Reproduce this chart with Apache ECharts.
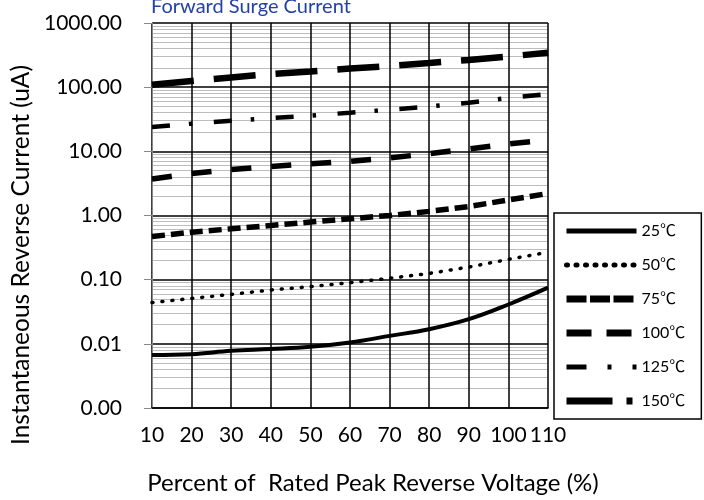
<!DOCTYPE html>
<html><head><meta charset="utf-8">
<script src="https://cdn.jsdelivr.net/npm/echarts@6/dist/echarts.min.js"></script>
<style>html,body{margin:0;padding:0;background:#fff}#c{width:704px;height:500px}</style>
</head><body><div id="c"></div>
<script>
const voltagePct = [10, 20, 30, 40, 50, 60, 70, 80, 90, 100, 110];
const seriesNames = ['25℃', '50℃', '75℃', '100℃', '125℃', '150℃'];
const current25 = [0.0067, 0.0069, 0.0078, 0.0083, 0.0090, 0.0105, 0.0133, 0.0169, 0.0242, 0.041, 0.075];
const current50 = [0.044, 0.051, 0.059, 0.069, 0.078, 0.090, 0.105, 0.125, 0.157, 0.207, 0.268];
const current75 = [0.47, 0.55, 0.62, 0.70, 0.79, 0.89, 1.0, 1.16, 1.38, 1.75, 2.2];
const current100 = [3.7, 4.5, 5.2, 5.8, 6.4, 7.0, 7.9, 9.2, 10.9, 13.0, 15.0];
const current125 = [24, 27, 30, 33, 36, 40, 44.5, 50, 57, 68, 78];
const current150 = [109, 125, 142, 160, 176, 195, 214, 238, 266, 300, 345];
const titleText = 'Forward Surge Current';
const xName = 'Percent of  Rated Peak Reverse Voltage (%)';
const yName = 'Instantaneous Reverse Current (uA)';

const allData = [current25, current50, current75, current100, current125, current150];
const styles = [
  {width: 4, type: 'solid', cap: 'butt', smooth: true, legendType: 'solid', legendWidth: 5},
  {width: 3.5, type: [1, 9], cap: 'round', smooth: false, legendType: [1, 8.5], legendWidth: 5},
  {width: 5.5, type: [13, 6], cap: 'butt', smooth: false, legendType: [20, 3.5], legendWidth: 7},
  {width: 5.5, type: [20, 20], cap: 'butt', smooth: false, legendType: [25, 15], legendWidth: 7},
  {width: 4.5, type: [18, 19, 3.5, 21.5], cap: 'butt', smooth: false, legendType: [20, 21, 4, 21, 4, 100], legendWidth: 5},
  {width: 6.5, type: [42, 20], cap: 'butt', smooth: false, legendType: [46, 14, 6, 100], legendWidth: 7}
];
const FONT = 'Lato, "Noto Sans CJK SC", sans-serif';

const series = seriesNames.map((name, i) => ({
  name: name,
  type: 'line',
  data: voltagePct.map((x, j) => [x, allData[i][j]]),
  showSymbol: false,
  symbol: 'none',
  smooth: styles[i].smooth ? 0.4 : false,
  z: 5,
  itemStyle: {color: '#000'},
  lineStyle: {color: '#000', width: styles[i].width, type: styles[i].type, cap: styles[i].cap}
}));

const legendData = seriesNames.map((name, i) => ({
  name: name,
  itemStyle: {opacity: 0},
  lineStyle: {color: '#000', width: styles[i].legendWidth, type: styles[i].legendType,
    cap: i === 1 ? 'round' : 'butt'}
}));

const chart = echarts.init(document.getElementById('c'), null, {renderer: 'canvas'});
chart.setOption({
  backgroundColor: '#fff',
  animation: false,
  title: {
    text: titleText, left: 146, top: -8,
    textStyle: {fontFamily: FONT, fontSize: 20, fontWeight: 'normal', color: '#2342a3'}
  },
  grid: {left: 152, right: 156, top: 23, bottom: 91},
  legend: {
    orient: 'vertical', left: 554, top: 213,
    data: legendData,
    itemWidth: 70, itemHeight: 14, itemGap: 18,
    padding: [10, 16, 10, 9],
    borderColor: '#000', borderWidth: 1.5,
    backgroundColor: '#fff',
    textStyle: {fontFamily: FONT, fontSize: 16, color: '#000', padding: [6, 0, 0, 0]},
    selectedMode: false
  },
  xAxis: {
    type: 'value', min: 10, max: 110, interval: 10,
    name: xName, nameLocation: 'middle', nameGap: 63,
    nameTextStyle: {fontFamily: FONT, fontSize: 24, color: '#000', padding: [0, 0, 0, 46]},
    axisLine: {lineStyle: {color: '#000', width: 1.5}},
    axisTick: {show: false},
    axisLabel: {fontFamily: FONT, fontSize: 21, color: '#000', margin: 17},
    splitLine: {show: true, lineStyle: {color: '#000', width: 1.5}}
  },
  yAxis: {
    type: 'log', logBase: 10, min: 0.001, max: 1000,
    axisLine: {show: true, lineStyle: {color: '#888', width: 1}},
    axisTick: {show: true, inside: false, length: 8, lineStyle: {color: '#888'}},
    axisLabel: {fontFamily: FONT, fontSize: 21, color: '#000', margin: 30,
      formatter: v => Number(v).toFixed(2)},
    splitLine: {show: true, lineStyle: {color: '#000', width: 1.5}},
    minorTick: {show: false, splitNumber: 9},
    minorSplitLine: {show: true, lineStyle: {color: '#bdbdbd', width: 1}}
  },
  graphic: [{
    type: 'text', x: 21, y: 255, rotation: Math.PI / 2,
    style: {text: yName, fontFamily: FONT, fontSize: 24.5, fill: '#000', align: 'center', verticalAlign: 'middle'}
  }],
  series: series
});
</script></body></html>
